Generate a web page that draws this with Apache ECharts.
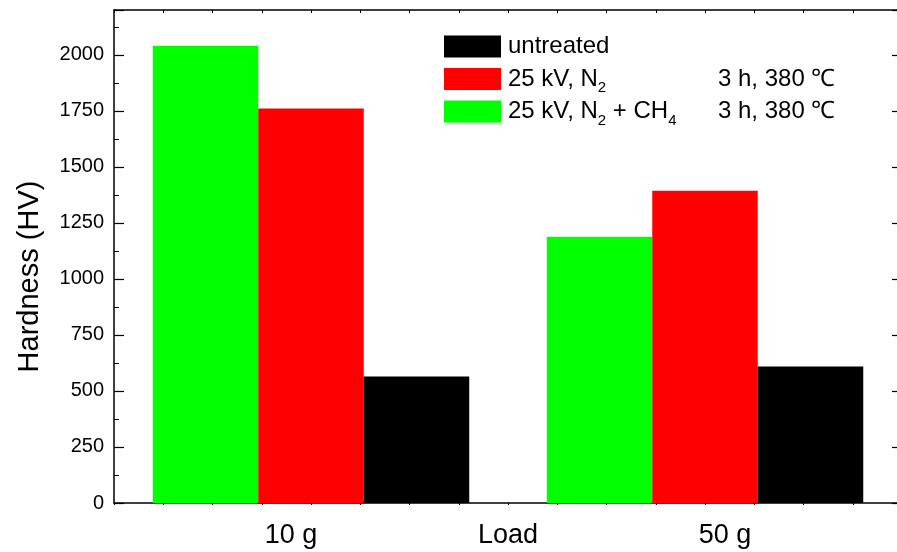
<!DOCTYPE html>
<html><head><meta charset="utf-8">
<script src="https://cdn.jsdelivr.net/npm/echarts@6/dist/echarts.min.js"></script>
<style>html,body{margin:0;padding:0;background:#fff}#c{width:897px;height:552px}</style>
</head><body><div id="c"></div>
<script>
// ---- data ----
const categories = ['10 g', '50 g'];
const seriesNames = ['25 kV, N2 + CH4', '25 kV, N2', 'untreated'];
const greenValues = [2040, 1188];   // 25 kV, N2 + CH4
const redValues = [1760, 1393];     // 25 kV, N2
const blackValues = [565, 609];     // untreated
const legendOrder = ['untreated', '25 kV, N2', '25 kV, N2 + CH4'];
const conditionText = '3 h, 380 ℃';
const xAxisName = 'Load';
const yAxisName = 'Hardness (HV)';

const FONT = '"Liberation Sans", Arial, Helvetica, sans-serif';
const ctx = document.createElement('canvas').getContext('2d');
function tw(t, size) { ctx.font = 'normal normal ' + size + 'px ' + FONT; return ctx.measureText(t).width; }

const LEG_FS = 24, SUB_FS = 15, LEG_LH = 33, PADL = 2;
const textStart = 444 + 57 + 5 + PADL;
const colX = 718;
const gap2 = colX - textStart - (tw('25 kV, N', LEG_FS) + tw('2', SUB_FS));
const gap3 = colX - textStart - (tw('25 kV, N', LEG_FS) + tw('2', SUB_FS) + tw(' + CH', LEG_FS) + tw('4', SUB_FS));

const chart = echarts.init(document.getElementById('c'), null, {renderer: 'canvas'});
const black = '#000';
const option = {
  animation: false,
  backgroundColor: '#fff',
  textStyle: {fontFamily: FONT, color: black},
  grid: {left: 114, right: -5, top: 10, bottom: 49, containLabel: false, outerBoundsMode: 'none'},
  legend: {
    orient: 'vertical', left: 444, top: 30, padding: 0,
    itemWidth: 57, itemHeight: 22, itemGap: -0.5,
    icon: 'rect', selectedMode: false,
    data: legendOrder,
    textStyle: {fontSize: LEG_FS, lineHeight: LEG_LH, color: black, fontFamily: FONT,
      rich: {
        a: {fontSize: LEG_FS, lineHeight: LEG_LH, color: black, fontFamily: FONT, padding: [0, 0, 0, PADL]},
        m: {fontSize: LEG_FS, lineHeight: LEG_LH, color: black, fontFamily: FONT},
        s: {fontSize: SUB_FS, verticalAlign: 'bottom', color: black, fontFamily: FONT},
        c2: {fontSize: LEG_FS, lineHeight: LEG_LH, color: black, fontFamily: FONT, padding: [0, 0, 0, gap2]},
        c3: {fontSize: LEG_FS, lineHeight: LEG_LH, color: black, fontFamily: FONT, padding: [0, 0, 0, gap3]}
      }},
    formatter: function (name) {
      if (name === 'untreated') return '{a|untreated}';
      if (name === '25 kV, N2') return '{a|25 kV, N}{s|2}{c2|' + conditionText + '}';
      return '{a|25 kV, N}{s|2}{m| + CH}{s|4}{c3|' + conditionText + '}';
    }
  },
  xAxis: [
    {
      type: 'category', data: categories, position: 'bottom',
      axisLine: {show: true, onZero: false, lineStyle: {color: black, width: 1.5}},
      axisTick: {show: false},
      axisLabel: {
        margin: 19, color: black,
        formatter: v => v === categories[0] ? '{l|' + v + '}' : '{r|' + v + '}',
        rich: {
          l: {fontSize: 27, fontFamily: FONT, color: black, padding: [0, 40, 0, 0]},
          r: {fontSize: 27, fontFamily: FONT, color: black, padding: [0, 0, 0, 40]}
        }
      },
      name: xAxisName, nameLocation: 'middle', nameGap: 19, nameMoveOverlap: false,
      nameTextStyle: {fontSize: 27, fontFamily: FONT, color: black, verticalAlign: 'top'}
    },
    {
      type: 'value', position: 'bottom', min: 0, max: 16, interval: 1,
      axisLine: {show: false, onZero: false}, splitLine: {show: false},
      axisTick: {show: true, inside: false, length: 2, lineStyle: {color: black, width: 1}},
      axisLabel: {show: false}
    },
    {
      type: 'value', position: 'top', min: 0, max: 16, interval: 1,
      axisLine: {show: true, onZero: false, lineStyle: {color: black, width: 1.5}}, splitLine: {show: false},
      axisTick: {show: true, inside: true, length: 3, lineStyle: {color: black, width: 1}},
      axisLabel: {show: false}
    }
  ],
  yAxis: [
    {
      type: 'value', position: 'left', min: 0, max: 2200, interval: 250,
      axisLine: {show: true, onZero: false, lineStyle: {color: black, width: 1.5}},
      axisTick: {show: true, inside: true, length: 10, lineStyle: {color: black, width: 1.2}},
      minorTick: {show: true, splitNumber: 2, length: 5, lineStyle: {color: black, width: 1}},
      splitLine: {show: false},
      axisLabel: {fontSize: 20, margin: 10, color: black, fontFamily: FONT, showMaxLabel: false,
        formatter: v => String(v)},
      name: yAxisName, nameLocation: 'middle', nameGap: 70, nameMoveOverlap: false,
      nameTextStyle: {fontSize: 29, fontFamily: FONT, color: black, padding: [0, 40, 0, 0]}
    },
    {
      type: 'value', position: 'right', min: 0, max: 2200, interval: 250,
      axisLine: {show: false, onZero: false},
      axisTick: {show: true, inside: true, length: 10, lineStyle: {color: black, width: 1.2}},
      minorTick: {show: true, splitNumber: 2, length: 5, lineStyle: {color: black, width: 1}},
      splitLine: {show: false},
      axisLabel: {show: false}
    }
  ],
  series: [
    {name: seriesNames[0], type: 'bar', xAxisIndex: 0, yAxisIndex: 0, data: greenValues,
     barWidth: 105.5, barGap: '0%', itemStyle: {color: '#00ff00'}},
    {name: seriesNames[1], type: 'bar', xAxisIndex: 0, yAxisIndex: 0, data: redValues,
     barWidth: 105.5, barGap: '0%', itemStyle: {color: '#ff0000'}},
    {name: seriesNames[2], type: 'bar', xAxisIndex: 0, yAxisIndex: 0, data: blackValues,
     barWidth: 105.5, barGap: '0%', itemStyle: {color: '#000000'}}
  ]
};
chart.setOption(option);
</script>
</body></html>
